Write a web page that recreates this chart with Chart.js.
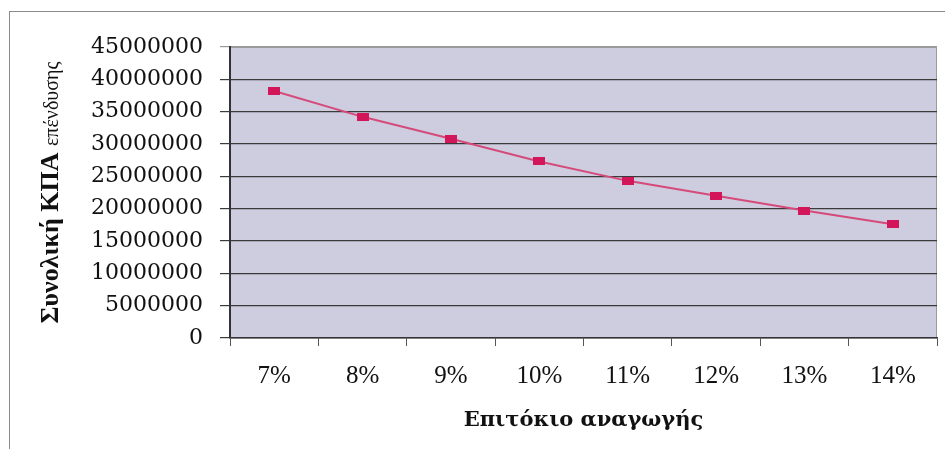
<!DOCTYPE html>
<html>
<head>
<meta charset="utf-8">
<title>ΚΠΑ επένδυσης</title>
<script src="https://cdn.jsdelivr.net/npm/chart.js@4"></script>
<style>
  body{margin:0;background:#fff;overflow:hidden;}
  .frame{position:absolute;left:9px;top:11px;width:2000px;height:2000px;border:1px solid #8a8a8a;}
  .wrap{position:absolute;left:0;top:0;width:945px;height:449px;}
</style>
</head>
<body>
<div class="frame"></div>
<div class="wrap"><canvas id="kpaChart" width="945" height="449"></canvas></div>

<script>
//data
const rates = ['7%', '8%', '9%', '10%', '11%', '12%', '13%', '14%'];
const npvTotal = [38200000, 34200000, 30800000, 27300000, 24300000, 22000000, 19700000, 17600000];
const yMax = 45000000;
const yStep = 5000000;

const xTitle = 'Επιτόκιο αναγωγής';
const yTitleBold = 'Συνολική ΚΠΑ';
const yTitleRest = 'επένδυσης';

//small flat square marker
const marker = document.createElement('canvas');
marker.width = 12;
marker.height = 8;
const mctx = marker.getContext('2d');
mctx.fillStyle = '#d3165a';
mctx.fillRect(0, 0, 12, 8);

//plot background + frame of the plot area
const plotBg = {
  id: 'plotBg',
  beforeDraw(chart){
    const {ctx, chartArea: a} = chart;
    ctx.save();
    ctx.fillStyle = '#cdcddf';
    ctx.fillRect(a.left, a.top, a.right - a.left, a.bottom - a.top);
    ctx.strokeStyle = '#9a9a9a';
    ctx.lineWidth = 1;
    ctx.beginPath();
    ctx.moveTo(a.left, a.top + 0.5);
    ctx.lineTo(a.right - 0.5, a.top + 0.5);
    ctx.lineTo(a.right - 0.5, a.bottom);
    ctx.stroke();
    ctx.restore();
  }
};

//y axis title, bold first part and plain second part
const yTitle = {
  id: 'yTitle',
  afterDraw(chart){
    const {ctx, chartArea: a} = chart;
    ctx.save();
    const fBold = "bold 26px 'Liberation Serif'";
    const fPlain = "20px 'Liberation Serif'";
    ctx.font = fBold;
    const w1 = ctx.measureText(yTitleBold + ' ').width;
    ctx.font = fPlain;
    const w2 = ctx.measureText(yTitleRest).width;
    const mid = (a.top + a.bottom) / 2;
    ctx.translate(58, mid + (w1 + w2) / 2);
    ctx.rotate(-Math.PI / 2);
    ctx.fillStyle = '#111';
    ctx.textAlign = 'left';
    ctx.textBaseline = 'alphabetic';
    ctx.font = fBold;
    ctx.fillText(yTitleBold + ' ', 0, 0);
    ctx.font = fPlain;
    ctx.fillText(yTitleRest, w1, 0);
    ctx.restore();
  }
};

new Chart(document.getElementById('kpaChart'), {
  type: 'line',
  data: {
    labels: rates,
    datasets: [{
      data: npvTotal,
      borderColor: '#d6497b',
      borderWidth: 2,
      tension: 0,
      pointStyle: marker,
      pointBackgroundColor: '#d3165a',
      pointBorderColor: '#d3165a'
    }]
  },
  options: {
    responsive: false,
    animation: false,
    devicePixelRatio: 1,
    layout: {padding: {top: 47, right: 8, left: 0, bottom: 0}},
    plugins: {
      legend: {display: false},
      tooltip: {enabled: false}
    },
    scales: {
      x: {
        offset: true,
        afterFit(scale){ scale.height = 111; },
        grid: {
          offset: true,
          drawOnChartArea: false,
          drawTicks: true,
          tickLength: 8,
          color: '#555'
        },
        border: {display: true, color: '#333', width: 1.5},
        ticks: {
          color: '#111',
          padding: 15,
          font: {family: "'Liberation Serif'", size: 25}
        },
        title: {
          display: true,
          text: xTitle,
          color: '#111',
          padding: {top: 0, bottom: 16},
          font: {family: "'DejaVu Serif'", size: 21, weight: 'bold'}
        }
      },
      y: {
        min: 0,
        max: yMax,
        afterFit(scale){ scale.width = 230; },
        grid: {
          tickLength: 10,
          color: ctx => ctx.tick && ctx.tick.value === yMax ? '#9a9a9a' : '#3a3a3a',
          lineWidth: 1.2
        },
        border: {display: true, color: '#333', width: 2},
        ticks: {
          stepSize: yStep,
          color: '#111',
          padding: 17,
          font: {family: "'DejaVu Serif'", size: 22},
          callback: v => String(v)
        }
      }
    }
  },
  plugins: [plotBg, yTitle]
});
</script>
</body>
</html>
